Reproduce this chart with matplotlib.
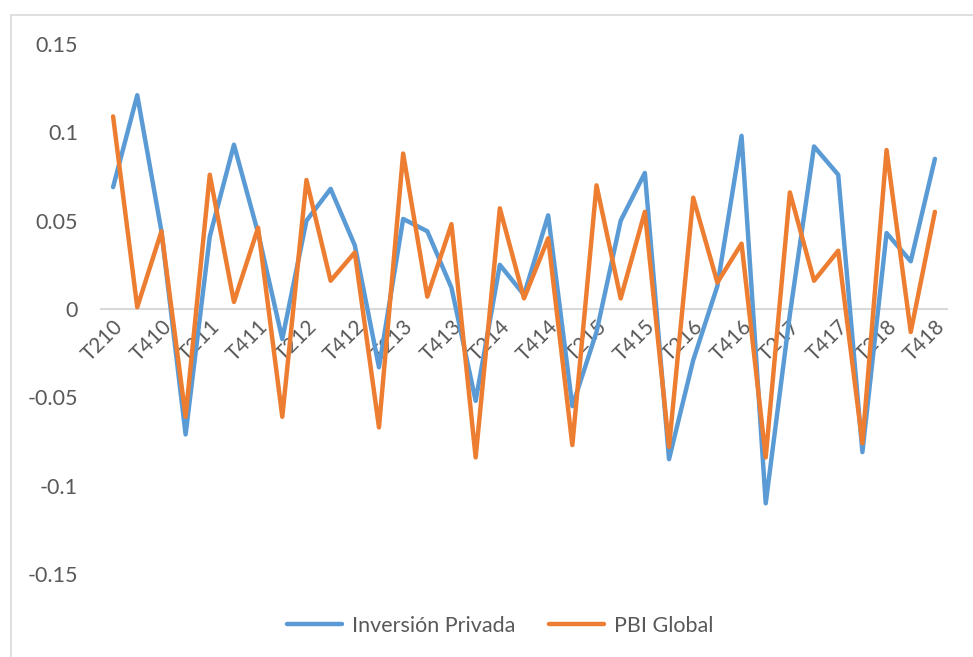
import matplotlib
matplotlib.use("Agg")
import matplotlib.pyplot as plt
from matplotlib.patches import Rectangle
from matplotlib.ticker import FixedLocator, FuncFormatter

# Quarterly periods (quarter + two-digit year)
periods = [
    "T210", "T310", "T410",
    "T111", "T211", "T311", "T411",
    "T112", "T212", "T312", "T412",
    "T113", "T213", "T313", "T413",
    "T114", "T214", "T314", "T414",
    "T115", "T215", "T315", "T415",
    "T116", "T216", "T316", "T416",
    "T117", "T217", "T317", "T417",
    "T118", "T218", "T318", "T418",
]

inversion_privada = [
    0.069, 0.121, 0.044, -0.071, 0.041, 0.093, 0.043, -0.017, 0.050, 0.068,
    0.036, -0.033, 0.051, 0.044, 0.012, -0.052, 0.025, 0.008, 0.053, -0.055,
    -0.013, 0.050, 0.077, -0.085, -0.029, 0.013, 0.098, -0.110, -0.003, 0.092,
    0.076, -0.081, 0.043, 0.027, 0.085,
]

pbi_global = [
    0.109, 0.001, 0.044, -0.061, 0.076, 0.004, 0.046, -0.061, 0.073, 0.016,
    0.032, -0.067, 0.088, 0.007, 0.048, -0.084, 0.057, 0.006, 0.040, -0.077,
    0.070, 0.006, 0.055, -0.078, 0.063, 0.015, 0.037, -0.084, 0.066, 0.016,
    0.033, -0.076, 0.090, -0.013, 0.055,
]

y_ticks = [-0.15, -0.1, -0.05, 0, 0.05, 0.1, 0.15]

BLUE = "#5B9BD5"
ORANGE = "#ED7D31"
TEXT = "#595959"
GRID = "#D9D9D9"
FS = 15.5

plt.rcParams["font.family"] = ["Lato", "DejaVu Sans"]
plt.rcParams["axes.unicode_minus"] = False

W, H = 973, 657
fig = plt.figure(figsize=(W / 100, H / 100), dpi=100)

# chart frame
fig.patches.append(Rectangle((11 / W, 1 - 680 / H), 990 / W, 665 / H,
                             transform=fig.transFigure, fill=False,
                             edgecolor=GRID, linewidth=1.2, zorder=0))

ax = fig.add_axes([101 / W, 1 - 574 / H, 846 / W, 530 / H])

x = list(range(len(periods)))
ax.plot(x, inversion_privada, color=BLUE, lw=3.2, label="Inversión Privada",
        solid_joinstyle="round", solid_capstyle="round", zorder=3)
ax.plot(x, pbi_global, color=ORANGE, lw=3.2, label="PBI Global",
        solid_joinstyle="round", solid_capstyle="round", zorder=4)

ax.set_xlim(-0.5, len(periods) - 0.5)
ax.set_ylim(-0.15, 0.15)

for s in ("top", "right", "left"):
    ax.spines[s].set_visible(False)
ax.spines["bottom"].set_position(("data", 0))
ax.spines["bottom"].set_color(GRID)
ax.spines["bottom"].set_linewidth(1.5)
ax.spines["bottom"].set_zorder(1)

label_pos = x[::2]
ax.xaxis.set_major_locator(FixedLocator(label_pos))
ax.set_xticklabels(periods[::2], rotation=45, ha="right", va="top",
                   rotation_mode="anchor", fontsize=FS - 0.5, color=TEXT)
ax.tick_params(axis="x", length=0, pad=5)

ax.yaxis.set_major_locator(FixedLocator(y_ticks))
ax.yaxis.set_major_formatter(FuncFormatter(lambda v, p: f"{v:g}"))
ax.tick_params(axis="y", length=0, pad=16.5, labelsize=FS, labelcolor=TEXT)

leg = fig.legend(loc="center", bbox_to_anchor=(500 / W, 1 - 626 / H), ncol=2,
                 frameon=False, fontsize=FS, handlelength=2.55,
                 handletextpad=0.47, columnspacing=1.55)
for t in leg.get_texts():
    t.set_color(TEXT)

fig.savefig("out.png", dpi=100)
